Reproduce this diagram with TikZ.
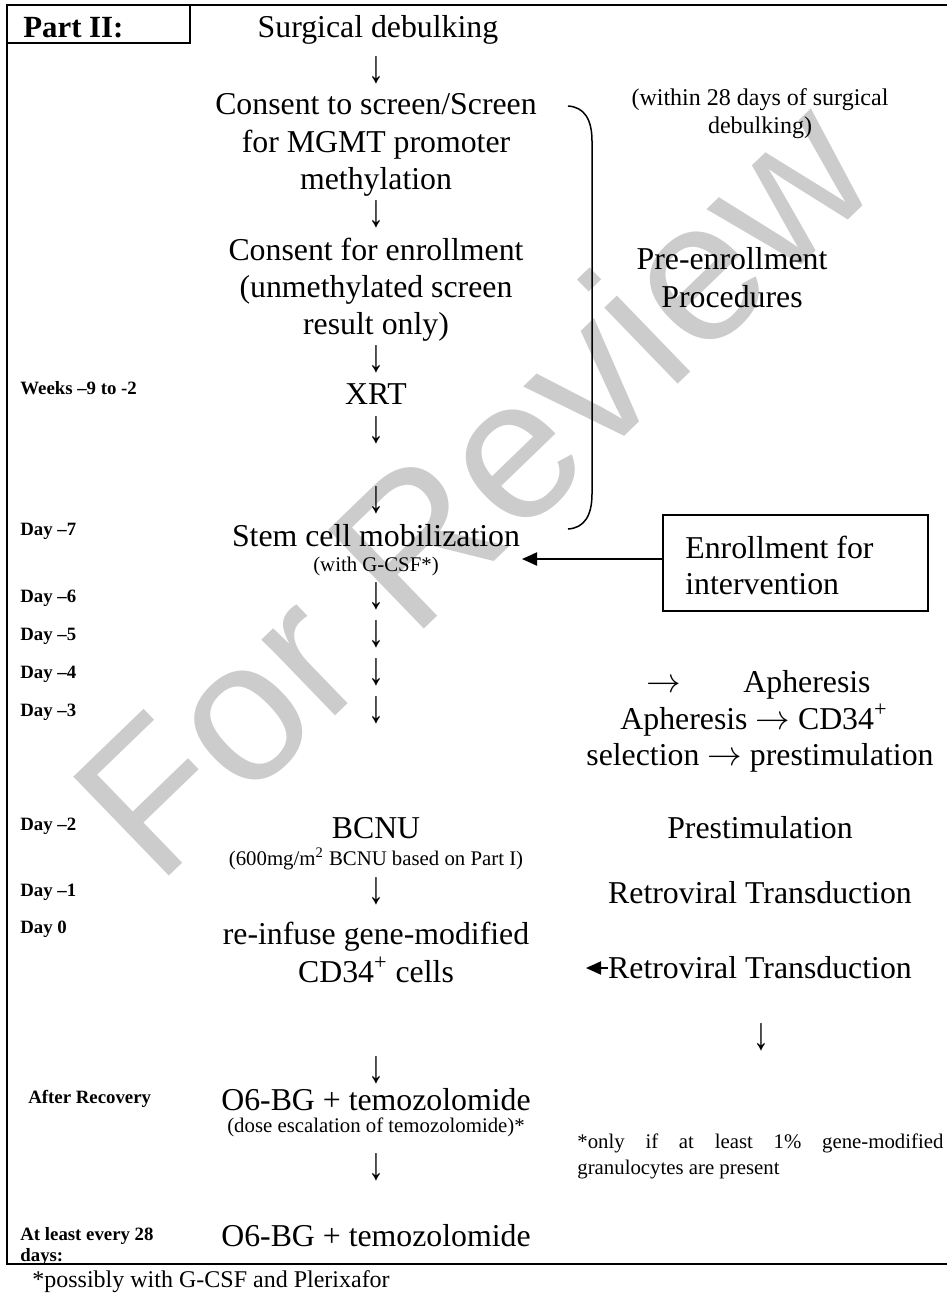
\documentclass[tikz,border=0pt]{standalone}
\usepackage{fontspec}
\usepackage{graphicx}
\setmainfont{Liberation Serif}
\newfontfamily\wmfont{Liberation Sans}
\newcommand\dnarrow{\scalebox{1}[1.45]{↓}}
\usetikzlibrary{arrows.meta}
\begin{document}
\begin{tikzpicture}[x=0.5pt,y=-0.5pt,
  main/.style={font=\fontsize{15.9}{19}\selectfont, inner sep=0pt, anchor=base},
  sm/.style={font=\fontsize{10.4}{12.5}\selectfont, inner sep=0pt, anchor=base},
  med/.style={font=\fontsize{12}{14}\selectfont, inner sep=0pt, anchor=base},
  lbl/.style={font=\fontsize{9.4}{11}\selectfont\bfseries, inner sep=0pt, anchor=base west},
  darr/.style={font=\fontsize{15.9}{19}\selectfont, inner sep=0pt, anchor=center},
  frameline/.style={line width=1.3pt},
  arr/.style={line width=1pt, -{Triangle[length=7.5pt,width=6.5pt]}},
  wm/.style={font=\wmfont\fontsize{100}{100}\selectfont, text=black!20, inner sep=0pt}]
\useasboundingbox (0,0) rectangle (947,1296);
% watermark
\node[wm, rotate=44, anchor=base west] (wmark) at (157,888) {For Review};
% frame
\draw[frameline] (947,5) -- (7,5) -- (7,1264) -- (947,1264);
\draw[line width=1pt] (7,5) rectangle (190,43);
\node[font=\fontsize{15.4}{18}\selectfont\bfseries, inner sep=0pt, anchor=base west] (part) at (23,37) {Part II:};
% main column
\node[main] (surg) at (378,37) {Surgical debulking};
\node[darr] (a1) at (376,70) {\dnarrow};
\node[main] (c1) at (376,114) {Consent to screen/Screen};
\node[main] (c2) at (376,152) {for MGMT promoter};
\node[main] (c3) at (376,189) {methylation};
\node[darr] (a2) at (376,214) {\dnarrow};
\node[main] (e1) at (376,260) {Consent for enrollment};
\node[main] (e2) at (376,297) {(unmethylated screen};
\node[main] (e3) at (376,334) {result only)};
\node[darr] (a3) at (376,359) {\dnarrow};
\node[main] (xrt) at (376,404) {XRT};
\node[darr] (a4) at (376,430) {\dnarrow};
\node[darr] (a5) at (376,500) {\dnarrow};
\node[main] (stem) at (376,546) {Stem cell mobilization};
\node[sm] (gcsf) at (376,571) {(with G-CSF*)};
\node[darr] (a6) at (376,596) {\dnarrow};
\node[darr] (a7) at (376,634) {\dnarrow};
\node[darr] (a8) at (376,672) {\dnarrow};
\node[darr] (a9) at (376,710) {\dnarrow};
\node[main] (bcnu) at (376,838) {BCNU};
\node[sm] (bcnud) at (376,865) {(600mg/m\textsuperscript{2} BCNU based on Part I)};
\node[darr] (a10) at (376,891) {\dnarrow};
\node[main] (ri1) at (376,944) {re-infuse gene-modified};
\node[main] (ri2) at (376,982) {CD34\textsuperscript{+} cells};
\node[darr] (a11) at (376,1070) {\dnarrow};
\node[main] (o6a) at (376,1110) {O6-BG + temozolomide};
\node[sm] (dose) at (376,1132) {(dose escalation of temozolomide)*};
\node[darr] (a12) at (376,1167) {\dnarrow};
\node[main] (o6b) at (376,1246) {O6-BG + temozolomide};
% left labels
\node[lbl] (lw) at (20,394) {Weeks –9 to -2};
\node[lbl] (l7) at (20,535) {Day –7};
\node[lbl] (l6) at (20,602) {Day –6};
\node[lbl] (l5) at (20,640) {Day –5};
\node[lbl] (l4) at (20,678) {Day –4};
\node[lbl] (l3) at (20,716) {Day –3};
\node[lbl] (l2) at (20,830) {Day –2};
\node[lbl] (l1) at (20,896) {Day –1};
\node[lbl] (l0) at (20,933) {Day 0};
\node[lbl] (lar) at (28,1103) {After Recovery};
\node[lbl] (lal1) at (20,1240) {At least every 28};
\node[lbl] (lal2) at (20,1261) {days:};
% right column
\node[med] (w1) at (760,105) {(within 28 days of surgical};
\node[med] (w2) at (760,133) {debulking)};
\draw[line width=0.75pt] (568,106) .. controls (584,107) and (592,119) .. (592,141) -- (592,494) .. controls (592,516) and (584,528) .. (568,529);
\node[main] (pre1) at (732,269) {Pre-enrollment};
\node[main] (pre2) at (732,307) {Procedures};
\node[draw, line width=1pt, inner sep=0pt, minimum width=132.5pt, minimum height=48pt] (enr) at (795.5,563) {};
\node[main, anchor=base west] (en1) at (685,558) {Enrollment for};
\node[main, anchor=base west] (en2) at (685,594) {intervention};
\coordinate (stemin) at (522,559);
\draw[arr] (enr.west |- stemin) -- (stemin);
\node[main] (ap0a) at (664,692) {$\rightarrow$};
\node[main] (ap0b) at (807,692) {Apheresis};
\node[main] (ap1) at (754,729) {Apheresis $\rightarrow$ CD34\textsuperscript{+}};
\node[main] (ap2) at (760,765) {selection $\rightarrow$ prestimulation};
\node[main] (pres) at (760,838) {Prestimulation};
\node[main] (rt1) at (760,903) {Retroviral Transduction};
\node[main] (rt2) at (760,978) {Retroviral Transduction};
\coordinate (rtend) at (586,968);
\draw[arr] (rt2.west |- rtend) -- (rtend);
\node[darr] (ra) at (761,1037) {\dnarrow};
\node[sm, anchor=base west] (only1) at (577,1148) {\makebox[183pt][s]{*only if at least 1\% gene-modified}};
\node[sm, anchor=base west] (only2) at (577,1174) {granulocytes are present};
% footnote
\node[med, anchor=base west] (foot) at (32,1287) {*possibly with G-CSF and Plerixafor};
\end{tikzpicture}
\end{document}
